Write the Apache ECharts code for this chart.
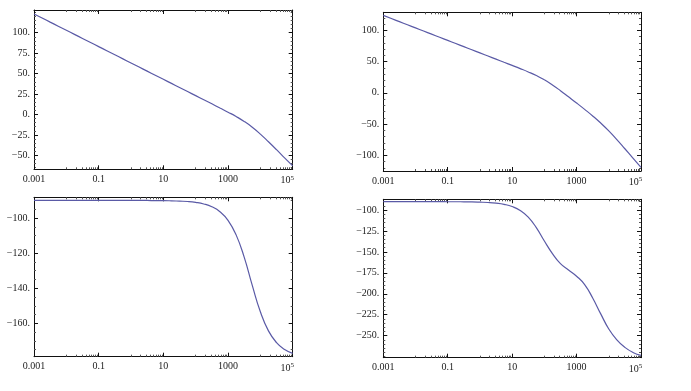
<!DOCTYPE html>
<html>
<head>
<meta charset="utf-8">
<script src="https://cdn.jsdelivr.net/npm/echarts@6/dist/echarts.min.js"></script>
<style>
html,body{margin:0;padding:0;background:#fff;}
#c{width:691px;height:391px;}
</style>
</head>
<body>
<div id="c"></div>
<script>
// Frequencies (quarter-decade samples)
const freqs = [0.001,0.00178,0.00316,0.00562,0.01,0.0178,0.0316,0.0562,0.1,0.178,0.316,0.562,1,1.78,3.16,5.62,10,17.8,31.6,56.2,100,178,316,562,1000,1780,3160,5620,10000,17800,31600,56200,100000];
// Top-left: magnitude
const magA = [123,118,113,108,103,98,93,88,83,78,73,68,63,58,53,48,43,38,33,28,23,18,13,7.9,2.8,-2.5,-8.5,-15.6,-24,-33.4,-43.1,-53.1,-63];
// Bottom-left: phase
const phaseA = [-90,-90,-90,-90,-90,-90,-90,-90,-90,-90,-90,-90,-90,-90,-90,-90.1,-90.1,-90.2,-90.4,-90.6,-91.1,-92,-93.6,-96.4,-101.3,-109.6,-122.3,-138.4,-153.4,-164.3,-171,-174.9,-177.1];
// Top-right: magnitude
const magB = [123.8,118.8,113.8,108.8,103.8,98.8,93.8,88.8,83.8,78.8,73.8,68.8,63.8,58.8,53.8,48.8,43.8,38.7,33.4,27.6,20.8,12.6,3.4,-6.4,-16.3,-26.5,-37,-48.4,-61,-74.9,-89.5,-104.4,-119.3];
// Bottom-right: phase
const phaseB = [-90,-90,-90,-90,-90,-90,-90,-90,-90.1,-90.1,-90.2,-90.3,-90.6,-91,-91.8,-93.2,-95.8,-100.5,-108.5,-121,-137,-152,-164,-171.5,-179,-189,-205,-224,-242,-255,-264,-270,-273.5];

// Tick labels
const xMajor = [0.001,0.1,10,1000,100000];
const xMinor = [0.01,0.02,0.03,0.04,0.05,0.06,0.07,0.08,0.09,1,2,3,4,5,6,7,8,9,100,200,300,400,500,600,700,800,900,10000,20000,30000,40000,50000,60000,70000,80000,90000];
const yMajorA = [-50,-25,0,25,50,75,100];
const yMajorB = [-100,-50,0,50,100];
const yMajorC = [-160,-140,-120,-100];
const yMajorD = [-250,-225,-200,-175,-150,-125,-100];

const panels = [
  {grid:{left:34,top:10,width:258.7,height:159.3}, y:magA, ymin:-67.1, ymax:127.8, major:yMajorA, step:5},
  {grid:{left:383.3,top:12.3,width:257.7,height:158.7}, y:magB, ymin:-125.1, ymax:128.8, major:yMajorB, step:10},
  {grid:{left:34,top:197.3,width:258.7,height:159.4}, y:phaseA, ymin:-179, ymax:-88.2, major:yMajorC, step:5},
  {grid:{left:383.3,top:199.3,width:257.7,height:158.4}, y:phaseB, ymin:-276.3, ymax:-87.2, major:yMajorD, step:5}
];

const FONT = 'Liberation Serif';
const frameColor = '#111';
const lineColor = '#5a5aa6';

function fmtY(v){ return (v<0?'\u2212':'') + Math.abs(v) + '.'; }
function fmtX(v){
  if (v >= 99999) return '{b|10}{s|5}{g|}';
  if (v < 1) return String(Number(v.toPrecision(3)));
  return String(Math.round(v));
}
function minorVals(min,max,step,major){
  const out=[];
  for(let v=Math.ceil(min/step)*step; v<=max; v+=step){
    const r=Math.round(v*1000)/1000;
    if(major.indexOf(r)<0) out.push(r);
  }
  return out;
}

const grid=[], xAxis=[], yAxis=[], series=[];
panels.forEach((p,i)=>{
  grid.push(Object.assign({containLabel:false}, p.grid));
  const xBase = {type:'log', logBase:10, min:0.001, max:100000, gridIndex:i,
    splitLine:{show:false}, minorSplitLine:{show:false}};
  xAxis.push(Object.assign({}, xBase, {position:'bottom',
    axisLine:{show:true, onZero:false, lineStyle:{color:frameColor,width:1}},
    axisTick:{show:true, inside:true, length:4, customValues:xMajor, lineStyle:{color:frameColor}},
    axisLabel:{show:true, customValues:xMajor, formatter:fmtX, margin:5, color:'#222', fontFamily:FONT, fontSize:10,
      rich:{b:{fontFamily:FONT,fontSize:10,color:'#222'}, s:{fontFamily:FONT,fontSize:7,color:'#222',verticalAlign:'top',padding:[0,0,6,0]}, g:{width:11}}}
  }));
  xAxis.push(Object.assign({}, xBase, {position:'bottom',
    axisLine:{show:false, onZero:false}, axisLabel:{show:false},
    axisTick:{show:true, inside:true, length:2, customValues:xMinor, lineStyle:{color:'#555'}}
  }));
  xAxis.push(Object.assign({}, xBase, {position:'top',
    axisLine:{show:true, onZero:false, lineStyle:{color:frameColor,width:1}},
    axisLabel:{show:false},
    axisTick:{show:true, inside:true, length:4, customValues:xMajor, lineStyle:{color:frameColor}}
  }));
  xAxis.push(Object.assign({}, xBase, {position:'top',
    axisLine:{show:false, onZero:false}, axisLabel:{show:false},
    axisTick:{show:true, inside:true, length:2, customValues:xMinor, lineStyle:{color:'#555'}}
  }));
  const yBase = {type:'value', min:p.ymin, max:p.ymax, gridIndex:i, splitLine:{show:false}};
  const minors = minorVals(p.ymin,p.ymax,p.step,p.major);
  yAxis.push(Object.assign({}, yBase, {position:'left',
    axisLine:{show:true, onZero:false, lineStyle:{color:frameColor,width:1}},
    axisTick:{show:true, inside:true, length:4, customValues:p.major, lineStyle:{color:frameColor}},
    axisLabel:{show:true, customValues:p.major, formatter:fmtY, margin:4, color:'#222', fontFamily:FONT, fontSize:10}
  }));
  yAxis.push(Object.assign({}, yBase, {position:'left',
    axisLine:{show:false, onZero:false}, axisLabel:{show:false},
    axisTick:{show:true, inside:true, length:2, customValues:minors, lineStyle:{color:'#555'}}
  }));
  yAxis.push(Object.assign({}, yBase, {position:'right',
    axisLine:{show:true, onZero:false, lineStyle:{color:frameColor,width:1}},
    axisLabel:{show:false},
    axisTick:{show:true, inside:true, length:4, customValues:p.major, lineStyle:{color:frameColor}}
  }));
  yAxis.push(Object.assign({}, yBase, {position:'right',
    axisLine:{show:false, onZero:false}, axisLabel:{show:false},
    axisTick:{show:true, inside:true, length:2, customValues:minors, lineStyle:{color:'#555'}}
  }));
  series.push({type:'line', xAxisIndex:i*4, yAxisIndex:i*4, smooth:true, showSymbol:false, symbol:'none',
    lineStyle:{color:lineColor, width:1.2}, data:freqs.map((f,k)=>[f,p.y[k]]), clip:true, animation:false});
});

const chart = echarts.init(document.getElementById('c'), null, {renderer:'canvas'});
chart.setOption({animation:false, backgroundColor:'#fff', grid, xAxis, yAxis, series});
</script>
</body>
</html>
